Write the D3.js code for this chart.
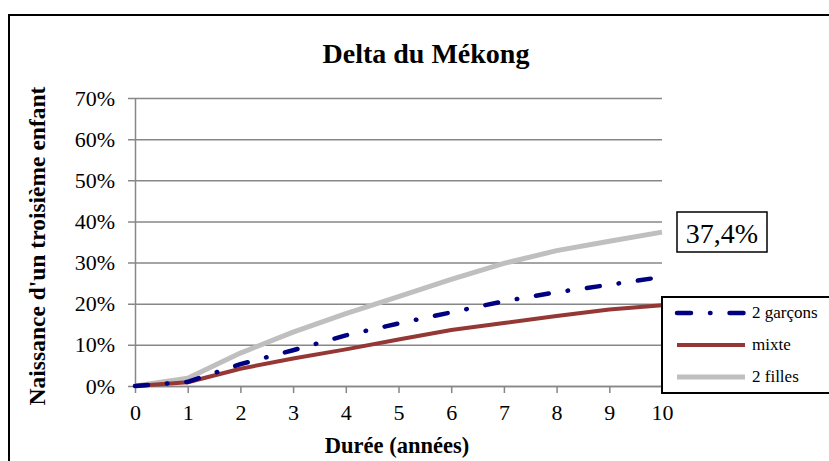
<!DOCTYPE html>
<html><head><meta charset="utf-8">
<script src="https://cdn.jsdelivr.net/npm/d3@7"></script>
<style>body{margin:0;background:#fff}svg{display:block}</style>
</head><body>
<svg id="c" width="829" height="461"></svg>
<script>
const years = [0,1,2,3,4,5,6,7,8,9,10];
const garcons = [0,1.0,5.3,8.7,12.3,15.2,17.9,20.6,22.8,24.6,26.5];
const mixte   = [0,0.9,4.2,6.7,8.9,11.3,13.6,15.3,17.0,18.6,19.6];
const filles  = [0,1.9,8.0,13.1,17.6,21.7,25.9,29.8,32.9,35.2,37.4];
const yTicks = [0,10,20,30,40,50,60,70];
const seriesNames = ["2 garçons","mixte","2 filles"];
const endLabel = "37,4%";

const svg = d3.select("#c");
const font = "'Liberation Serif', 'DejaVu Serif', serif";
const x = d3.scaleLinear().domain([0,10]).range([135,662]);
const y = d3.scaleLinear().domain([0,70]).range([386,98]);
const grid = "#878787";

// outer border
svg.append("rect").attr("x",9).attr("y",15).attr("width",840).attr("height",470)
  .attr("fill","none").attr("stroke","#000").attr("stroke-width",2);

// title
svg.append("text").attr("x",426).attr("y",63).attr("text-anchor","middle")
  .attr("font-family",font).attr("font-weight","bold").attr("font-size",28)
  .text("Delta du Mékong");

// y axis with gridlines
const gy = svg.append("g").attr("transform",`translate(${x(0)},0)`)
  .call(d3.axisLeft(y).tickValues(yTicks).tickFormat(d=>d+"%").tickSizeInner(7).tickSizeOuter(0).tickPadding(13));
gy.select(".domain").attr("stroke",grid).attr("stroke-width",1.5);
gy.selectAll(".tick line").attr("x1",-7).attr("x2",x(10)-x(0)).attr("stroke",grid).attr("stroke-width",1.5);
gy.selectAll(".tick text").attr("font-family",font).attr("font-size",22).attr("fill","#000");

// x axis
const gx = svg.append("g").attr("transform",`translate(0,${y(0)})`)
  .call(d3.axisBottom(x).tickValues(years).tickSizeInner(7).tickSizeOuter(0).tickPadding(11));
gx.select(".domain").attr("stroke",grid).attr("stroke-width",1.5);
gx.selectAll(".tick line").attr("stroke",grid).attr("stroke-width",1.5);
gx.selectAll(".tick text").attr("font-family",font).attr("font-size",22).attr("fill","#000");

// axis titles
svg.append("text").attr("x",397).attr("y",453).attr("text-anchor","middle")
  .attr("font-family",font).attr("font-weight","bold").attr("font-size",22.5)
  .text("Durée (années)");
svg.append("text").attr("transform","translate(45,246) rotate(-90)").attr("text-anchor","middle")
  .attr("font-family",font).attr("font-weight","bold").attr("font-size",23.5)
  .text("Naissance d'un troisième enfant");

const line = d3.line().x((d,i)=>x(years[i])).y(d=>y(d));
const styles = [
  {data:garcons, color:"#000080", w:4.5, dash:"13 19 0.5 19", cap:"round"},
  {data:mixte, color:"#953735", w:4, dash:null, cap:"butt"},
  {data:filles, color:"#bfbfbf", w:5, dash:null, cap:"butt"}
];
[styles[2], styles[1], styles[0]].forEach(s=>{
  svg.append("path").datum(s.data).attr("d",line).attr("fill","none")
    .attr("stroke",s.color).attr("stroke-width",s.w)
    .attr("stroke-dasharray",s.dash).attr("stroke-linecap",s.cap).attr("stroke-linejoin","round");
});

// end label box
svg.append("rect").attr("x",677).attr("y",212).attr("width",90).attr("height",40)
  .attr("fill","#fff").attr("stroke","#000").attr("stroke-width",1.5);
svg.append("text").attr("x",722).attr("y",243).attr("text-anchor","middle")
  .attr("font-family",font).attr("font-size",28).text(endLabel);

// legend
svg.append("rect").attr("x",662).attr("y",297).attr("width",170).attr("height",96)
  .attr("fill","#fff").attr("stroke","#000").attr("stroke-width",2);
const rowsY = [313,345,377];
styles.forEach((s,i)=>{
  svg.append("line").attr("x1",677).attr("x2",745).attr("y1",rowsY[i]).attr("y2",rowsY[i])
    .attr("stroke",s.color).attr("stroke-width",s.w)
    .attr("stroke-dasharray",s.dash ? "14 19 0.5 19" : null).attr("stroke-linecap",s.cap);
  svg.append("text").attr("x",752).attr("y",rowsY[i]+5).attr("font-family",font).attr("font-size",17)
    .text(seriesNames[i]);
});
</script>
</body></html>
